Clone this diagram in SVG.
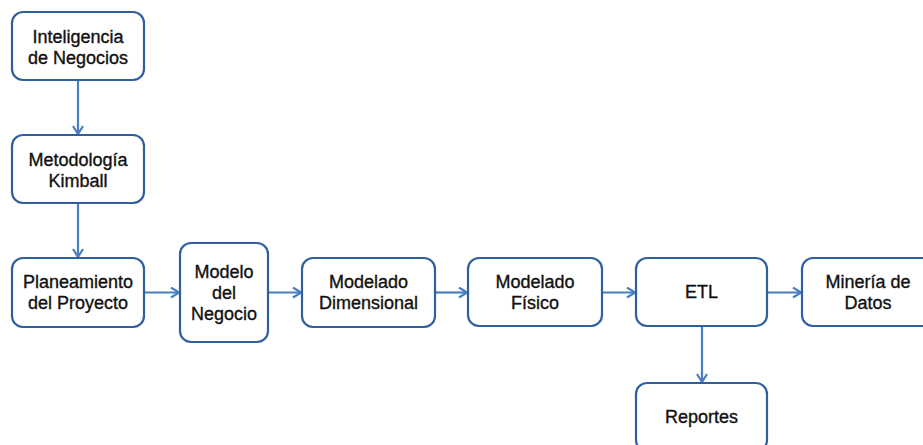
<svg xmlns="http://www.w3.org/2000/svg" width="923" height="445" viewBox="0 0 923 445">
<defs>
<style>
.box{fill:#fff;stroke:#2f5f9f;stroke-width:2.2}
.lbl{font-family:"Liberation Sans",Arial,sans-serif;font-size:18px;fill:#111;stroke:#111;stroke-width:0.35;text-anchor:middle}
.edge{fill:none;stroke:#4a7ec2;stroke-width:2.2;marker-end:url(#arr)}
</style>
<marker id="arr" viewBox="0 0 10 12" refX="9" refY="6" markerWidth="10" markerHeight="12" markerUnits="userSpaceOnUse" orient="auto">
<path d="M1,1 L9,6 L1,11" fill="none" stroke="#4a7ec2" stroke-width="2.2"/>
</marker>
</defs>
<rect width="923" height="445" fill="#fff"/>
<g id="connectors">
<line class="edge" x1="78" y1="80" x2="78" y2="134"/>
<line class="edge" x1="78" y1="203" x2="78" y2="257"/>
<line class="edge" x1="144" y1="292.5" x2="179" y2="292.5"/>
<line class="edge" x1="268" y1="292.5" x2="301" y2="292.5"/>
<line class="edge" x1="435" y1="292.5" x2="467" y2="292.5"/>
<line class="edge" x1="602" y1="292.5" x2="635" y2="292.5"/>
<line class="edge" x1="767" y1="292.5" x2="801" y2="292.5"/>
<line class="edge" x1="702" y1="326" x2="702" y2="382"/>
</g>
<g id="n1"><rect class="box" x="12" y="12" width="132" height="68" rx="11"/><text class="lbl" x="78" y="43">Inteligencia</text><text class="lbl" x="78" y="64">de Negocios</text></g>
<g id="n2"><rect class="box" x="12" y="135" width="132" height="68" rx="11"/><text class="lbl" x="78" y="166">Metodología</text><text class="lbl" x="78" y="187">Kimball</text></g>
<g id="n3"><rect class="box" x="12" y="258" width="132" height="69" rx="11"/><text class="lbl" x="78" y="288">Planeamiento</text><text class="lbl" x="78" y="309">del Proyecto</text></g>
<g id="n4"><rect class="box" x="180" y="243" width="88" height="99" rx="11"/><text class="lbl" x="224" y="278">Modelo</text><text class="lbl" x="224" y="299">del</text><text class="lbl" x="224" y="320">Negocio</text></g>
<g id="n5"><rect class="box" x="302" y="258" width="133" height="69" rx="11"/><text class="lbl" x="368.5" y="288">Modelado</text><text class="lbl" x="368.5" y="309">Dimensional</text></g>
<g id="n6"><rect class="box" x="468" y="258" width="134" height="68" rx="11"/><text class="lbl" x="535" y="288">Modelado</text><text class="lbl" x="535" y="309">Físico</text></g>
<g id="n7"><rect class="box" x="636" y="258" width="131" height="68" rx="11"/><text class="lbl" x="701.5" y="298">ETL</text></g>
<g id="n8"><rect class="box" x="802" y="258" width="133" height="68" rx="11"/><text class="lbl" x="868" y="288">Minería de</text><text class="lbl" x="868" y="309">Datos</text></g>
<g id="n9"><rect class="box" x="636" y="383" width="131" height="68" rx="11"/><text class="lbl" x="701.5" y="423">Reportes</text></g>
</svg>
